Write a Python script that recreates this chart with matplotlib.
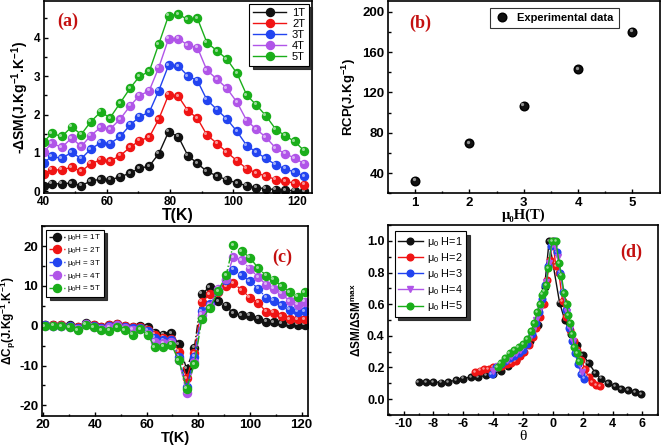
import matplotlib
matplotlib.use("Agg")
import matplotlib.pyplot as plt
from matplotlib.ticker import MultipleLocator
from matplotlib.transforms import offset_copy

plt.rcParams['font.family'] = ['Liberation Sans', 'DejaVu Sans']
plt.rcParams['mathtext.fontset'] = 'custom'
plt.rcParams['mathtext.rm'] = 'Liberation Sans'
plt.rcParams['mathtext.bf'] = 'Liberation Sans:bold'
plt.rcParams['mathtext.it'] = 'Liberation Sans:italic'
plt.rcParams['mathtext.default'] = 'bf'
plt.rcParams['axes.unicode_minus'] = False

# ---------------- data ----------------
# (a) -dS_M vs T
T_a = [40, 42.6, 45.8, 48.9, 51.9, 54.9, 58.1, 61.0, 64.2, 67.4, 70.3, 73.4, 76.4, 79.5,
       82.6, 85.6, 88.6, 91.6, 94.9, 97.9, 101.1, 104.2, 107.2, 110.2, 113.4, 116.3, 119.3, 122.3]
dS_1T = [0.15, 0.2, 0.2, 0.22, 0.15, 0.27, 0.32, 0.3, 0.38, 0.48, 0.6, 0.66, 0.98, 1.55,
         1.42, 0.93, 0.73, 0.52, 0.4, 0.3, 0.22, 0.15, 0.1, 0.07, 0.05, 0.03, 0.02, 0.01]
dS_2T = [0.46, 0.56, 0.56, 0.63, 0.52, 0.72, 0.82, 0.79, 0.93, 1.15, 1.32, 1.41, 1.88, 2.51,
         2.47, 2.1, 1.9, 1.47, 1.24, 1.02, 0.8, 0.59, 0.48, 0.4, 0.31, 0.26, 0.22, 0.17]
dS_3T = [0.74, 0.91, 0.86, 1.02, 0.85, 1.1, 1.27, 1.24, 1.43, 1.73, 1.94, 2.06, 2.62, 3.28,
         3.26, 3.0, 2.88, 2.38, 2.12, 1.88, 1.56, 1.19, 1.02, 0.86, 0.69, 0.59, 0.5, 0.4]
dS_4T = [1.02, 1.25, 1.15, 1.39, 1.17, 1.45, 1.67, 1.62, 1.88, 2.23, 2.49, 2.62, 3.22, 3.97,
         3.97, 3.8, 3.74, 3.15, 2.91, 2.68, 2.32, 1.84, 1.62, 1.41, 1.12, 0.98, 0.87, 0.72]
dS_5T = [1.28, 1.51, 1.43, 1.68, 1.48, 1.81, 2.07, 1.91, 2.3, 2.69, 2.99, 3.12, 3.83, 4.57,
         4.6, 4.47, 4.5, 3.87, 3.65, 3.44, 3.07, 2.5, 2.25, 1.97, 1.61, 1.45, 1.3, 1.06]
labels_a = ['1T', '2T', '3T', '4T', '5T']

# (b) RCP vs field
H_b = [1, 2, 3, 4, 5]
RCP = [32.4, 69.8, 106.9, 143.0, 180.1]

# (c) dCp vs T
T_c = [20.6, 23.8, 27.0, 30.2, 33.4, 36.5, 39.6, 42.5, 45.5, 48.6, 51.6, 54.6, 57.5, 60.4,
       63.2, 66.4, 69.6, 72.5, 75.5, 78.5, 81.4, 84.5, 87.7, 90.8, 93.5, 96.8, 100.0, 103.2,
       106.3, 109.3, 112.3, 115.4, 118.5, 121.3]
dCp_1T = [0.2, 0.1, 0.1, 0.1, -0.2, 0.6, 0.2, -0.2, 0.2, 0.5, 0.0, -0.2, -0.1, -0.3, -1.7,
          -2.3, -1.9, -4.7, -10.8, -5.5, 8.1, 9.7, 6.2, 5.0, 3.1, 2.7, 2.5, 1.8, 1.0, 0.9, 0.7,
          0.4, 0.3, 0.3]
dCp_2T = [0.1, 0.1, 0.1, 0.0, -0.3, 0.5, 0.1, -0.3, 0.1, 0.4, -0.1, -0.4, -0.4, -1.0, -2.3,
          -3.0, -3.2, -6.5, -13.2, -6.9, 6.0, 7.9, 8.5, 10.0, 10.7, 9.0, 7.1, 5.8, 3.5, 3.3, 2.4,
          1.7, 1.6, 1.7]
dCp_3T = [0.1, 0.0, 0.0, -0.1, -0.5, 0.5, 0.0, -0.5, 0.0, 0.3, -0.3, -0.6, -0.6, -1.3, -3.0,
          -3.6, -3.6, -7.8, -15.5, -7.8, 3.6, 5.4, 8.7, 11.5, 14.1, 12.7, 11.2, 9.3, 7.0, 6.3,
          5.1, 4.0, 3.5, 3.6]
dCp_4T = [0.0, -0.1, -0.1, -0.3, -0.8, 0.4, -0.2, -0.7, -0.3, 0.1, -0.6, -1.0, -0.8, -2.0,
          -4.0, -4.4, -4.2, -8.6, -16.9, -9.2, 2.8, 5.0, 9.3, 11.8, 17.2, 16.5, 14.3, 12.2, 10.3,
          9.3, 8.0, 6.2, 5.3, 6.1]
dCp_5T = [-0.1, 0.0, -0.1, -0.4, -1.1, 0.3, -0.4, -1.1, -1.2, -0.3, -1.1, -2.3, -0.9, -2.3,
          -5.4, -5.3, -4.8, -8.7, -15.8, -9.6, 1.7, 4.4, 8.7, 12.7, 20.3, 18.8, 17.1, 14.5, 12.6,
          11.6, 9.9, 8.5, 7.3, 8.4]
labels_c = [r'$\mathrm{\mu_0}$H = 1T', r'$\mathrm{\mu_0}$H = 2T', r'$\mathrm{\mu_0}$H = 3T',
            r'$\mathrm{\mu_0}$H = 4T', r'$\mathrm{\mu_0}$H = 5T']

# (d) normalized entropy change vs theta
th_1 = [-9.0, -8.5, -8.0, -7.5, -7.0, -6.5, -6.0, -5.5, -5.0, -4.5, -4.0, -3.5, -3.0, -2.5,
        -2.0, -1.5, -1.0, -0.55, -0.25, 0.45, 0.8, 1.2, 1.6, 2.0, 2.4, 2.85, 3.25, 3.7, 4.15,
        4.6, 5.05, 5.5, 5.9]
n_1 = [0.11, 0.11, 0.11, 0.105, 0.11, 0.12, 0.13, 0.14, 0.14, 0.15, 0.16, 0.18, 0.21, 0.25,
       0.3, 0.37, 0.47, 0.71, 1.0, 0.61, 0.5, 0.41, 0.34, 0.28, 0.23, 0.165, 0.13, 0.1, 0.08,
       0.065, 0.055, 0.044, 0.033]
th_2 = [-5.2, -4.9, -4.6, -4.3, -4.0, -3.7, -3.4, -3.1, -2.8, -2.5, -2.2, -1.9, -1.6, -1.35,
        -1.1, -0.85, -0.6, -0.4, -0.2, 0.0, 0.2, 0.4, 0.65, 0.9, 1.15, 1.4, 1.65, 1.9, 2.15,
        2.4, 2.65, 2.9, 3.15]
n_2 = [0.17, 0.18, 0.19, 0.19, 0.2, 0.2, 0.21, 0.22, 0.23, 0.24, 0.27, 0.3, 0.34, 0.39, 0.45,
       0.52, 0.6, 0.75, 0.88, 1.0, 0.84, 0.8, 0.62, 0.52, 0.44, 0.37, 0.31, 0.25, 0.19, 0.14,
       0.11, 0.09, 0.08]
th_3 = [-4.1, -3.8, -3.5, -3.2, -2.9, -2.6, -2.3, -2.0, -1.7, -1.4, -1.15, -0.9, -0.7, -0.5,
        -0.3, -0.1, 0.1, 0.3, 0.5, 0.7, 0.9, 1.1, 1.3, 1.5, 1.7, 1.9, 2.1]
n_3 = [0.16, 0.2, 0.22, 0.24, 0.26, 0.27, 0.29, 0.31, 0.35, 0.41, 0.48, 0.55, 0.63, 0.72,
       0.84, 0.97, 1.0, 0.93, 0.8, 0.68, 0.56, 0.45, 0.37, 0.29, 0.22, 0.16, 0.13]
th_4 = [-4.0, -3.7, -3.4, -3.1, -2.8, -2.5, -2.2, -1.9, -1.6, -1.35, -1.1, -0.85, -0.65,
        -0.45, -0.25, -0.05, 0.15, 0.35, 0.55, 0.75, 0.95, 1.15, 1.35, 1.55, 1.75, 1.95]
n_4 = [0.18, 0.21, 0.23, 0.25, 0.27, 0.29, 0.31, 0.34, 0.38, 0.43, 0.5, 0.57, 0.65, 0.74,
       0.86, 0.98, 0.97, 0.9, 0.78, 0.66, 0.55, 0.45, 0.37, 0.3, 0.23, 0.17]
th_5 = [-3.7, -3.5, -3.2, -2.9, -2.6, -2.3, -2.0, -1.7, -1.45, -1.25, -1.05, -0.88, -0.72,
        -0.58, -0.45, -0.32, -0.05, 0.2, 0.42, 0.58, 0.75, 0.92, 1.05, 1.17, 1.3, 1.45, 1.6,
        1.75]
n_5 = [0.2, 0.23, 0.26, 0.29, 0.31, 0.33, 0.35, 0.38, 0.43, 0.48, 0.55, 0.6, 0.66, 0.68, 0.72,
       0.83, 1.0, 1.0, 0.86, 0.78, 0.67, 0.6, 0.53, 0.48, 0.41, 0.33, 0.29, 0.24]
labels_d = [r'$\mathrm{\mu_0}$ H=1', r'$\mathrm{\mu_0}$ H=2', r'$\mathrm{\mu_0}$ H=3',
            r'$\mathrm{\mu_0}$ H=4', r'$\mathrm{\mu_0}$ H=5']

colors = ['#111111', '#f01414', '#2244f0', '#b055e8', '#1aae1a']
LETTER = '#c41010'

W, H = 661, 445
fig = plt.figure(figsize=(W / 100, H / 100), dpi=100)


def ax_px(l, t, r, b):
    return fig.add_axes([l / W, 1 - b / H, (r - l) / W, (b - t) / H])


def style(ax, fs=7.5):
    for s in ax.spines.values():
        s.set_linewidth(1.2)
    ax.tick_params(which='both', direction='in', labelsize=fs, width=1.0, pad=2.5)
    ax.tick_params(which='major', length=3)
    ax.tick_params(which='minor', length=1.8)
    for lab in ax.get_xticklabels() + ax.get_yticklabels():
        lab.set_fontweight('bold')


def shine(ax, x, y, ms):
    # small highlight to mimic shaded sphere markers
    tr = offset_copy(ax.transData, fig=fig, x=-ms * 0.18, y=ms * 0.18, units='points')
    ax.plot(x, y, 'o', ms=ms * 0.38, color='white', alpha=0.55, mec='none', transform=tr)


shadow = {'color': '#222222', 'alpha': 0.9, 'ox': 2.5, 'oy': -2.5}

# ---------------- (a) ----------------
axa = ax_px(43.5, 1, 311.7, 193)
for ys, c, lab in zip([dS_1T, dS_2T, dS_3T, dS_4T, dS_5T], colors, labels_a):
    axa.plot(T_a, ys, '-o', color=c, lw=1.0, ms=5.8, mec=c, label=lab)
    shine(axa, T_a, ys, 5.8)
axa.set_xlim(40, 124.7)
axa.set_ylim(-0.04, 4.95)
axa.xaxis.set_major_locator(MultipleLocator(20))
axa.xaxis.set_minor_locator(MultipleLocator(10))
axa.yaxis.set_major_locator(MultipleLocator(1))
axa.yaxis.set_minor_locator(MultipleLocator(0.5))
style(axa, 8.5)
axa.set_xlabel('T(K)', fontsize=11.5, fontweight='bold', labelpad=0)
axa.set_ylabel(r'-$\Delta$SM(J.Kg$^{-1}$.K$^{-1}$)', fontsize=10, fontweight='bold', labelpad=2)
leg = axa.legend(loc='upper right', fontsize=8, frameon=True, fancybox=False, shadow=shadow,
                 handlelength=3.0, borderpad=0.35, labelspacing=0.1, handletextpad=0.5,
                 borderaxespad=0.25)
leg.get_frame().set_edgecolor('black')
leg.get_frame().set_linewidth(0.8)
axa.text(0.05, 0.87, '(a)', transform=axa.transAxes, color=LETTER, fontsize=13,
         fontweight='bold', family='Liberation Serif')

# ---------------- (b) ----------------
axb = ax_px(388, 1, 659.5, 193.3)
axb.plot(H_b, RCP, 'o', color='#111111', ms=6.2, mec='#000000', label='Experimental data')
shine(axb, H_b, RCP, 6.2)
axb.set_xlim(0.5, 5.5)
axb.set_ylim(20, 210.6)
axb.xaxis.set_major_locator(MultipleLocator(1))
axb.xaxis.set_minor_locator(MultipleLocator(0.5))
axb.yaxis.set_major_locator(MultipleLocator(40))
axb.yaxis.set_minor_locator(MultipleLocator(20))
style(axb, 9.5)
axb.set_xlabel('μ₀H(T)', fontsize=10.5, fontweight='bold', family=['Liberation Serif', 'DejaVu Serif'],
               labelpad=0)
axb.set_ylabel(r'RCP(J.Kg$^{-1}$)', fontsize=9.5, fontweight='bold', labelpad=3)
legb = axb.legend(loc='upper right', bbox_to_anchor=(0.85, 0.965), frameon=True, fancybox=False,
                  handlelength=1.3, borderpad=0.45, handletextpad=0.7, borderaxespad=0.0,
                  prop={'weight': 'bold', 'size': 8})
legb.get_frame().set_edgecolor('black')
legb.get_frame().set_linewidth(0.8)
axb.text(0.08, 0.86, '(b)', transform=axb.transAxes, color=LETTER, fontsize=13,
         fontweight='bold', family='Liberation Serif')

# ---------------- (c) ----------------
axc = ax_px(41.7, 225.5, 308.3, 415.7)
for ys, c, lab in zip([dCp_1T, dCp_2T, dCp_3T, dCp_4T, dCp_5T], colors, labels_c):
    axc.plot(T_c, ys, linestyle='-.', marker='o', color=c, lw=1.0, ms=5.8, mec=c, label=lab)
    shine(axc, T_c, ys, 5.8)
axc.set_xlim(19.4, 122.6)
axc.set_ylim(-22.6, 25.2)
axc.xaxis.set_major_locator(MultipleLocator(20))
axc.xaxis.set_minor_locator(MultipleLocator(10))
axc.yaxis.set_major_locator(MultipleLocator(10))
axc.yaxis.set_minor_locator(MultipleLocator(5))
style(axc, 9.5)
axc.set_xlabel('T(K)', fontsize=10.5, fontweight='bold', labelpad=0)
axc.set_ylabel(r'$\Delta$C$_p$(J.Kg$^{-1}$.K$^{-1}$)', fontsize=8.5, fontweight='bold', labelpad=1)
legc = axc.legend(loc='upper left', fontsize=5.8, frameon=True, fancybox=False, shadow=shadow,
                  handlelength=2.0, borderpad=0.3, labelspacing=0.22, handletextpad=0.3,
                  borderaxespad=0.55)
legc.get_frame().set_edgecolor('black')
legc.get_frame().set_linewidth(0.8)
axc.text(0.865, 0.81, '(c)', transform=axc.transAxes, color=LETTER, fontsize=13,
         fontweight='bold', family='Liberation Serif')

# ---------------- (d) ----------------
axd = ax_px(388, 225, 658, 415)
mk = ['o', 'o', 'o', 'v', 'o']
for xs, ys, c, m, lab in zip([th_1, th_2, th_3, th_4, th_5], [n_1, n_2, n_3, n_4, n_5],
                             colors, mk, labels_d):
    axd.plot(xs, ys, '-', marker=m, color=c, lw=1.0, ms=4.8, mec=c, label=lab)
    if m == 'o':
        shine(axd, xs, ys, 4.8)
axd.set_xlim(-11.05, 7.05)
axd.set_ylim(-0.1, 1.1)
axd.xaxis.set_major_locator(MultipleLocator(2))
axd.xaxis.set_minor_locator(MultipleLocator(1))
axd.yaxis.set_major_locator(MultipleLocator(0.2))
axd.yaxis.set_minor_locator(MultipleLocator(0.1))
style(axd, 9)
axd.set_xlabel('θ', fontsize=11, family=['Liberation Serif', 'DejaVu Serif'], labelpad=0)
axd.set_ylabel(r'$\Delta$SM/$\Delta$SM$^{max}$', fontsize=8.5, fontweight='bold', labelpad=2)
legd = axd.legend(loc='upper left', fontsize=7.8, frameon=True, fancybox=False, shadow=shadow,
                  handlelength=2.3, borderpad=0.3, labelspacing=0.2, handletextpad=0.4,
                  borderaxespad=0.6)
legd.get_frame().set_edgecolor('black')
legd.get_frame().set_linewidth(0.8)
axd.text(0.86, 0.83, '(d)', transform=axd.transAxes, color=LETTER, fontsize=13,
         fontweight='bold', family='Liberation Serif')

fig.savefig('out.png', dpi=100)
